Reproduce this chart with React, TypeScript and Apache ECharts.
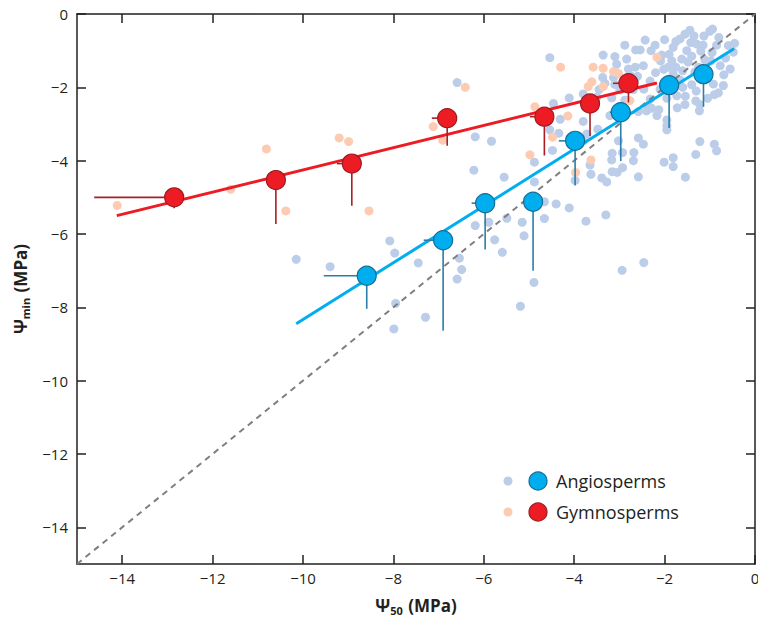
import React, { useEffect, useRef } from 'react';
import * as echarts from 'echarts';

const axisTicks = [-14, -12, -10, -8, -6, -4, -2, 0];

const angiospermSpecies: [number, number][] = [
  [-10.15, -6.69], [-9.4, -6.89], [-8.08, -6.19], [-7.97, -6.52], [-7.45, -6.79], [-7.95, -7.89],
  [-7.99, -8.59], [-7.29, -8.27], [-6.54, -6.66], [-6.49, -6.97], [-6.59, -7.23], [-6.19, -5.77],
  [-5.89, -5.68], [-5.76, -6.16], [-5.59, -6.5], [-5.49, -5.57], [-5.15, -5.68], [-5.11, -6.05],
  [-4.89, -7.32], [-5.19, -7.97], [-4.66, -5.58], [-4.66, -5.12], [-4.4, -5.18], [-4.11, -5.29],
  [-3.74, -5.65], [-3.3, -5.48], [-2.94, -6.99], [-2.46, -6.78], [-6.59, -1.87], [-6.19, -3.35],
  [-5.83, -3.47], [-6.22, -4.26], [-5.55, -4.45], [-4.88, -4.04], [-4.88, -4.58], [-4.48, -3.72],
  [-4.34, -3.25], [-4.54, -3.16], [-4.31, -2.87], [-4.46, -2.44], [-4.11, -2.29], [-4.54, -1.19],
  [-3.8, -2.93], [-3.48, -3.14], [-3.72, -3.27], [-3.8, -3.46], [-3.63, -4.37], [-3.98, -4.54],
  [-3.39, -4.47], [-3.28, -4.58], [-3.16, -4.3], [-3.05, -4.32], [-2.93, -4.19], [-3.17, -3.98],
  [-3.16, -3.8], [-3.02, -3.46], [-2.93, -3.78], [-2.68, -3.78], [-2.58, -4.44], [-2.58, -3.38],
  [-2.47, -3.55], [-2.01, -4.04], [-1.81, -3.92], [-1.81, -4.16], [-1.54, -4.45], [-1.31, -3.83],
  [-1.22, -3.48], [-0.9, -3.55], [-0.85, -3.73], [-1.95, -3.16], [-3.65, -4.12], [-2.69, -4.0],
  [-3.36, -1.12], [-3.1, -1.16], [-2.84, -1.23], [-2.64, -0.98], [-2.54, -0.98], [-2.47, -1.41],
  [-2.65, -1.45], [-2.75, -1.68], [-3.13, -1.73], [-3.37, -1.73], [-3.45, -2.06], [-3.5, -2.27],
  [-2.46, -2.05], [-2.32, -2.32], [-2.4, -2.64], [-2.29, -2.57], [-2.17, -2.77], [-1.95, -2.89],
  [-1.73, -2.23], [-1.55, -2.47], [-1.4, -1.93], [-1.23, -2.64], [-1.22, -2.47], [-0.9, -2.2],
  [-0.81, -2.15], [-0.92, -1.91], [-0.77, -1.41], [-0.69, -1.66], [-0.59, -0.86], [-0.48, -1.04],
  [-1.0, -0.47], [-1.13, -0.6], [-1.29, -0.82], [-1.66, -0.68], [-1.81, -0.91], [-1.51, -1.0],
  [-1.62, -1.23], [-1.92, -1.45], [-1.81, -1.64], [-2.58, -2.66], [-3.21, -2.77], [-1.42, -0.78],
  [-0.94, -0.41], [-0.8, -0.64], [-1.84, -1.28], [-1.2, -1.01], [-0.98, -1.28], [-1.31, -2.37],
  [-1.72, -2.56], [-1.95, -3.05], [-2.35, -2.52], [-2.32, -1.83], [-2.02, -1.51], [-2.09, -1.28],
  [-3.06, -1.37], [-3.1, -1.92], [-2.69, -2.06], [-3.17, -2.29], [-2.13, -2.61], [-1.54, -2.24],
  [-2.21, -0.85], [-2.06, -1.12], [-1.48, -1.31], [-1.33, -1.58], [-1.11, -1.25], [-1.11, -1.8],
  [-1.66, -1.8], [-1.99, -1.94], [-1.44, -0.44], [-0.45, -0.8], [-2.88, -0.85], [-2.43, -0.71],
  [-2.99, -2.07], [-2.88, -2.35], [-3.8, -2.18], [-3.32, -1.89],
  [-2.3, -1.0], [-2.2, -1.6], [-1.9, -1.1], [-1.75, -1.45], [-1.6, -1.55], [-1.4, -1.15],
  [-1.25, -1.45], [-1.05, -1.55], [-0.95, -1.05], [-0.85, -0.85], [-1.15, -0.85], [-1.55, -0.55],
  [-1.75, -0.75], [-2.0, -0.7], [-0.65, -1.2], [-0.55, -1.5], [-1.6, -2.0], [-1.3, -2.1],
  [-1.05, -2.3], [-2.1, -2.05], [-2.6, -1.7], [-2.8, -1.5], [-1.95, -2.3], [-0.7, -1.95],
  [-1.35, -0.6],
];

const gymnospermSpecies: [number, number][] = [
  [-14.11, -5.22], [-11.6, -4.78], [-10.81, -3.68], [-10.38, -5.37], [-9.2, -3.38], [-8.99, -3.48],
  [-8.54, -5.37], [-7.12, -3.07], [-6.91, -3.44], [-6.41, -2.0], [-4.98, -3.84], [-4.87, -2.53],
  [-4.48, -3.36], [-4.14, -2.78], [-3.97, -4.32], [-3.63, -3.98], [-4.3, -1.45], [-3.58, -1.45],
  [-3.36, -1.48], [-3.13, -1.57], [-3.02, -1.62], [-3.61, -1.85], [-3.69, -1.98], [-3.36, -1.98],
  [-2.17, -1.18], [-2.77, -2.36],
];

const angioMeanX = [-8.59, -6.9, -5.97, -4.91, -3.98, -2.97, -1.9, -1.14];
const angioMeanY = [-7.14, -6.17, -5.16, -5.12, -3.46, -2.68, -1.94, -1.64];
const angioErrXLow = [-9.54, -7.33, -6.27, -4.91, -4.34, -3.21, -2.06, -1.14];
const angioErrYLow = [-8.04, -8.64, -6.42, -7.0, -4.68, -4.01, -3.11, -2.53];

const gymnoMeanX = [-12.85, -10.6, -8.92, -6.81, -4.66, -3.65, -2.8];
const gymnoMeanY = [-5.0, -4.53, -4.08, -2.84, -2.8, -2.44, -1.89];
const gymnoErrXLow = [-14.62, -10.6, -9.25, -7.15, -4.98, -3.65, -3.14];
const gymnoErrYLow = [-5.3, -5.73, -5.23, -3.59, -3.86, -3.33, -2.41];

const angioFit: [number, number][] = [[-10.15, -8.45], [-0.46, -0.94]];
const gymnoFit: [number, number][] = [[-14.12, -5.5], [-2.17, -1.88]];
const identityLine: [number, number][] = [[-15, -15], [0, 0]];

const legendItems = ['Angiosperms', 'Gymnosperms'];

export default function App() {
  const ref = useRef<HTMLDivElement>(null);

  useEffect(() => {
    if (!ref.current) return;
    const chart = echarts.init(ref.current, null, { renderer: 'svg' });
    const font = 'Open Sans';
    const ink = '#231f20';
    const fmt = (v: number) => (v < 0 ? '\u2212' + Math.abs(v) : String(v));

    const pairs = (xs: number[], ys: number[]) => xs.map((x, i) => [x, ys[i]]);
    const bars = (xs: number[], ys: number[], xl: number[], yl: number[]) =>
      xs.map((x, i) => [x, ys[i], xl[i], yl[i]]);

    const renderErr = (color: string) => (params: any, api: any) => {
      const x = api.value(0);
      const y = api.value(1);
      const xl = api.value(2);
      const yl = api.value(3);
      const c = api.coord([x, y]);
      const l = api.coord([xl, y]);
      const b = api.coord([x, yl]);
      return {
        type: 'group',
        children: [
          { type: 'line', shape: { x1: l[0], y1: c[1], x2: c[0], y2: c[1] }, style: { stroke: color, lineWidth: 1.6 } },
          { type: 'line', shape: { x1: c[0], y1: c[1], x2: b[0], y2: b[1] }, style: { stroke: color, lineWidth: 1.6 } },
        ],
      };
    };

    const axisLine = { show: true, onZero: false, lineStyle: { color: ink, width: 1.5 } };
    const axisTick = { show: true, inside: true, length: 9, customValues: axisTicks, lineStyle: { color: ink, width: 1.5 } };
    const nameStyle = {
      rich: {
        p: { fontFamily: font, fontSize: 17, fontWeight: 'bold', color: ink, lineHeight: 22, verticalAlign: 'middle' },
        s: { fontFamily: font, fontSize: 11, fontWeight: 'bold', color: ink, lineHeight: 22, verticalAlign: 'bottom', padding: [0, 1, 0, 0] },
      },
    };

    const legendY = [481, 512];
    const legendSmall = ['#bbcde9', '#fdcab2'];
    const legendBig = ['#00aeef', '#ed1c24'];
    const legendBorder = ['#156c94', '#9b1b20'];

    const graphic: any[] = [];
    legendItems.forEach((label, i) => {
      graphic.push({ type: 'circle', shape: { cx: 508, cy: legendY[i], r: 4.5 }, style: { fill: legendSmall[i] } });
      graphic.push({ type: 'circle', shape: { cx: 538, cy: legendY[i], r: 9 }, style: { fill: legendBig[i], stroke: legendBorder[i], lineWidth: 1.2 } });
      graphic.push({
        type: 'text', x: 556, y: legendY[i],
        style: { text: label, fontFamily: font, fontSize: 18, fill: ink, verticalAlign: 'middle', align: 'left' },
      });
    });

    chart.setOption({
      animation: false,
      textStyle: { fontFamily: font },
      grid: { left: 77, right: 3, top: 14, bottom: 59, containLabel: false, outerBoundsMode: 'none' },
      xAxis: [
        {
          type: 'value', min: -15, max: 0, position: 'bottom',
          axisLine, axisTick,
          axisLabel: { customValues: axisTicks, formatter: fmt, fontSize: 15, color: ink, fontFamily: font, margin: 6 },
          splitLine: { show: false },
          name: '{p|\u03a8}{s|50}{p| (MPa)}', nameLocation: 'middle', nameGap: 30, nameTextStyle: nameStyle,
        },
        {
          type: 'value', min: -15, max: 0, position: 'top',
          axisLine, axisTick, axisLabel: { show: false }, splitLine: { show: false },
        },
      ],
      yAxis: [
        {
          type: 'value', min: -15, max: 0, position: 'left',
          axisLine, axisTick,
          axisLabel: { customValues: axisTicks, formatter: fmt, fontSize: 15, color: ink, fontFamily: font, margin: 9 },
          splitLine: { show: false },
          name: '{p|\u03a8}{s|min}{p| (MPa)}', nameLocation: 'middle', nameGap: 38, nameTextStyle: nameStyle,
        },
        {
          type: 'value', min: -15, max: 0, position: 'right',
          axisLine, axisTick, axisLabel: { show: false }, splitLine: { show: false },
        },
      ],
      graphic,
      series: [
        {
          type: 'scatter', name: 'Angiosperm species', data: angiospermSpecies, symbolSize: 9,
          itemStyle: { color: '#bbcde9', opacity: 1 }, z: 1,
        },
        {
          type: 'scatter', name: 'Gymnosperm species', data: gymnospermSpecies, symbolSize: 9,
          itemStyle: { color: '#fdcab2', opacity: 1 }, z: 1,
        },
        {
          type: 'line', data: identityLine, showSymbol: false, symbol: 'none',
          lineStyle: { color: '#7f7f7f', width: 2, type: [6, 5] }, z: 2,
        },
        {
          type: 'line', data: angioFit, symbol: 'none',
          lineStyle: { color: '#00aeef', width: 3 }, z: 3,
        },
        {
          type: 'line', data: gymnoFit, symbol: 'none',
          lineStyle: { color: '#ed1c24', width: 3 }, z: 3,
        },
        {
          type: 'custom', data: bars(angioMeanX, angioMeanY, angioErrXLow, angioErrYLow),
          renderItem: renderErr('#2a7ea8'), encode: { x: [0, 2], y: [1, 3] }, z: 4,
        },
        {
          type: 'custom', data: bars(gymnoMeanX, gymnoMeanY, gymnoErrXLow, gymnoErrYLow),
          renderItem: renderErr('#a81e24'), encode: { x: [0, 2], y: [1, 3] }, z: 4,
        },
        {
          type: 'scatter', name: 'Angiosperms', data: pairs(angioMeanX, angioMeanY), symbolSize: 19,
          itemStyle: { color: '#00aeef', borderColor: '#156c94', borderWidth: 1.2, opacity: 1 }, z: 5,
        },
        {
          type: 'scatter', name: 'Gymnosperms', data: pairs(gymnoMeanX, gymnoMeanY), symbolSize: 19,
          itemStyle: { color: '#ed1c24', borderColor: '#9b1b20', borderWidth: 1.2, opacity: 1 }, z: 5,
        },
      ],
    });

    return () => chart.dispose();
  }, []);

  return <div ref={ref} style={{ position: 'absolute', left: 0, top: 0, width: 758, height: 623 }} />;
}
